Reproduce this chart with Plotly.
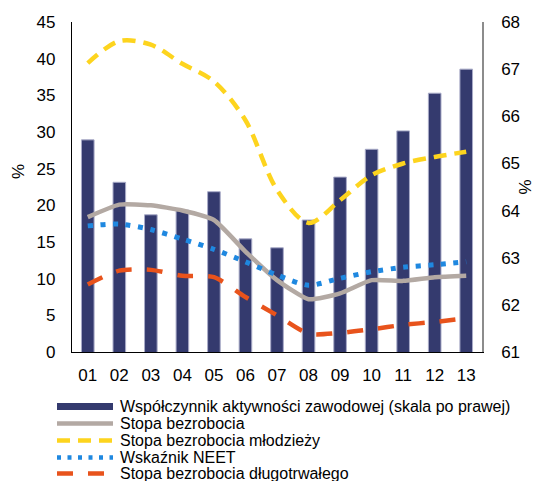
import plotly.graph_objects as go

categories = ["01", "02", "03", "04", "05", "06", "07", "08", "09", "10", "11", "12", "13"]
activity_rate = [65.50, 64.60, 63.91, 64.01, 64.40, 63.40, 63.21, 63.80, 64.71, 65.30, 65.69, 66.49, 67.00]
unemployment = [18.4, 20.1, 20.0, 19.3, 18.0, 13.7, 9.8, 7.2, 8.0, 9.8, 9.7, 10.2, 10.4]
youth_unemployment = [39.4, 42.4, 41.9, 39.3, 36.9, 31.6, 22.1, 17.6, 20.7, 24.1, 25.7, 26.6, 27.3]
neet = [17.2, 17.45, 16.7, 15.4, 14.0, 12.3, 10.5, 9.1, 10.05, 10.95, 11.55, 11.9, 12.3]
long_term = [9.2, 11.1, 11.2, 10.4, 10.2, 7.5, 5.0, 2.5, 2.6, 3.1, 3.7, 4.1, 4.6]

names = [
    "Współczynnik aktywności zawodowej (skala po prawej)",
    "Stopa bezrobocia",
    "Stopa bezrobocia młodzieży",
    "Wskaźnik NEET",
    "Stopa bezrobocia długotrwałego",
]
left_ticks = [0, 5, 10, 15, 20, 25, 30, 35, 40, 45]
right_ticks = [61, 62, 63, 64, 65, 66, 67, 68]

C_BAR = "#343a6e"
C_GREY = "#b3a9a3"
C_YEL = "#fdd41e"
C_BLUE = "#1f88e0"
C_ORA = "#e8531c"
FONT = "Liberation Sans, Arial, sans-serif"

fig = go.Figure()
fig.add_trace(go.Bar(x=categories, y=activity_rate, base=0, yaxis="y",
                     marker=dict(color=C_BAR, line=dict(color="#a9abc8", width=1)),
                     name=names[0], showlegend=False))
fig.add_trace(go.Scatter(x=categories, y=unemployment, yaxis="y2", mode="lines",
                         line=dict(color=C_GREY, width=4.5, shape="spline", smoothing=0.5),
                         name=names[1], showlegend=False))
fig.add_trace(go.Scatter(x=categories, y=youth_unemployment, yaxis="y2", mode="lines",
                         line=dict(color=C_YEL, width=4.5, dash="13px,8px", shape="spline", smoothing=0.9),
                         name=names[2], showlegend=False))
fig.add_trace(go.Scatter(x=categories, y=neet, yaxis="y2", mode="lines",
                         line=dict(color=C_BLUE, width=5, dash="5px,7.6px", shape="spline", smoothing=0.7),
                         name=names[3], showlegend=False))
fig.add_trace(go.Scatter(x=categories, y=long_term, yaxis="y2", mode="lines",
                         line=dict(color=C_ORA, width=4.5, dash="16px,15px", shape="spline", smoothing=0.7),
                         name=names[4], showlegend=False))

# page body has an 8px margin; work in reference pixel coords and shift
OFF = 8
W, H = 544 - OFF, 481 - OFF
PL, PR, PT, PB = 72, 482, 22, 352  # plot area in reference coords
L, R, T, B = PL - OFF, W - (PR - OFF), PT - OFF, H - (PB - OFF)
pw, ph = W - L - R, H - T - B

def px(x):
    return (x - OFF - L) / pw

def py(y):
    return (H - B - (y - OFF)) / ph

fig.update_layout(
    width=W, height=H,
    margin=dict(l=L, r=R, t=T, b=B),
    paper_bgcolor="white", plot_bgcolor="white",
    font=dict(family=FONT, size=17, color="black"),
    bargap=0.6,
    showlegend=False,
    xaxis=dict(type="category", showgrid=False, showline=True, linecolor="black", linewidth=1.3,
               ticks="outside", ticklen=7, tickcolor="rgba(0,0,0,0)", tickfont=dict(size=17),
               automargin=False),
    yaxis=dict(side="right", range=[61, 68], tickvals=right_ticks, showgrid=False, zeroline=False,
               showline=True, linecolor="#8c8c8c", linewidth=1.5,
               ticks="outside", ticklen=14, tickcolor="rgba(0,0,0,0)", tickfont=dict(size=17),
               title=dict(text="%", standoff=0, font=dict(size=17)), automargin=False),
    yaxis2=dict(side="left", overlaying="y", range=[0, 45], tickvals=left_ticks, showgrid=False,
                zeroline=False, showline=True, linecolor="black", linewidth=1.3,
                ticks="outside", ticklen=12, tickcolor="rgba(0,0,0,0)", tickfont=dict(size=17),
                automargin=False),
)

annotations = [
    dict(x=px(18), y=py(172), xref="paper", yref="paper", text="%", showarrow=False,
         textangle=-90, xanchor="center", yanchor="middle", font=dict(size=17)),
]
shapes = []
rows = [406.5, 423.5, 440.5, 457.5, 473.5]
x0, x1, xt = 57, 113, 118
shapes.append(dict(type="rect", xref="paper", yref="paper", x0=px(x0), x1=px(x1),
                   y0=py(rows[0] - 3.5), y1=py(rows[0] + 3.5), fillcolor=C_BAR, line=dict(width=0)))
styles = [
    (C_GREY, "solid", 4.5),
    (C_YEL, "13px,8px", 4.5),
    (C_BLUE, "4px,6.5px", 4.5),
    (C_ORA, "16px,15px", 4.5),
]
for i, (c, d, w) in enumerate(styles):
    shapes.append(dict(type="line", xref="paper", yref="paper", x0=px(x0), x1=px(x1),
                       y0=py(rows[i + 1]), y1=py(rows[i + 1]), line=dict(color=c, dash=d, width=w)))
for i, n in enumerate(names):
    annotations.append(dict(x=px(xt), y=py(rows[i]), xref="paper", yref="paper", text=n,
                            showarrow=False, xanchor="left", yanchor="middle",
                            font=dict(size=16)))
fig.update_layout(annotations=annotations, shapes=shapes)

fig.write_html("out.html")
